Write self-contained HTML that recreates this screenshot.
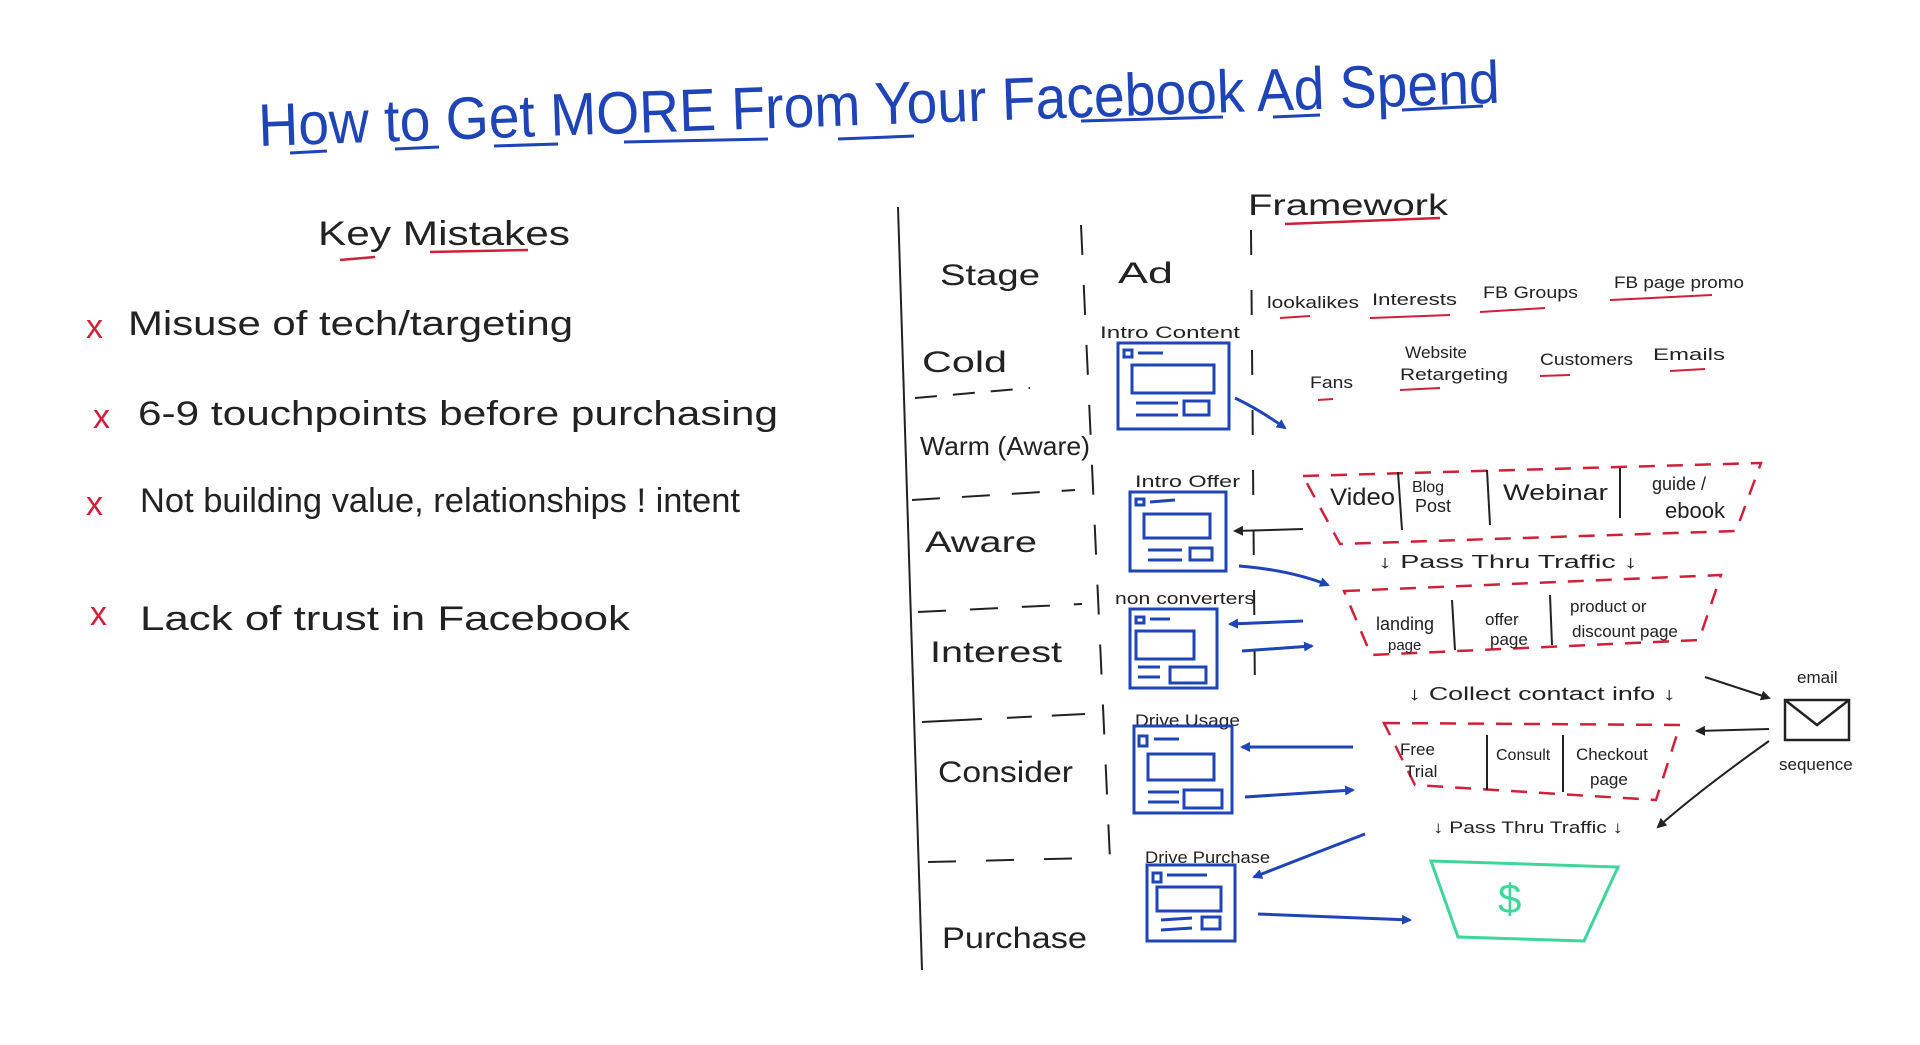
<!DOCTYPE html>
<html><head><meta charset="utf-8"><style>
html,body{margin:0;padding:0;background:#fff;width:1920px;height:1045px;overflow:hidden}
svg{display:block}
text{font-family:"Liberation Sans",sans-serif}
</style></head><body>
<svg width="1920" height="1045" viewBox="0 0 1920 1045" xmlns="http://www.w3.org/2000/svg">
<defs>
<marker id="ab" markerWidth="10" markerHeight="10" refX="8" refY="5" orient="auto" markerUnits="userSpaceOnUse"><path d="M0,0 L10,5 L0,10 z" fill="#1e44b8"/></marker>
<marker id="ak" markerWidth="10" markerHeight="10" refX="8" refY="5" orient="auto" markerUnits="userSpaceOnUse"><path d="M0,0 L10,5 L0,10 z" fill="#222"/></marker>
</defs>
<!-- Title -->
<g fill="#1e44b8" font-size="60">
<text x="259" y="146" transform="rotate(-2 259 146)" textLength="1242" lengthAdjust="spacingAndGlyphs">How  to  Get  MORE  From  Your  Facebook  Ad  Spend</text>
</g>
<g stroke="#1e44b8" stroke-width="3" fill="none">
<path d="M290 153 L327 151"/><path d="M395 149 L439 147"/><path d="M494 146 L558 144"/><path d="M624 142 L768 139"/><path d="M838 139 L914 136"/><path d="M1081 121 L1223 117"/><path d="M1273 117 L1320 115"/><path d="M1402 110 L1483 106"/>
</g>
<!-- Key mistakes -->
<g font-size="34" fill="#222">
<text x="318" y="245" textLength="252" lengthAdjust="spacingAndGlyphs">Key  Mistakes</text>
<text x="128" y="335" textLength="445" lengthAdjust="spacingAndGlyphs">Misuse of tech/targeting</text>
<text x="138" y="425" textLength="640" lengthAdjust="spacingAndGlyphs">6-9 touchpoints before purchasing</text>
<text x="140" y="512" textLength="600" lengthAdjust="spacingAndGlyphs">Not building value, relationships ! intent</text>
<text x="140" y="630" textLength="490" lengthAdjust="spacingAndGlyphs">Lack of trust in Facebook</text>
</g>
<g stroke="#d0203a" stroke-width="2.5" fill="none">
<path d="M340 260 L375 257"/><path d="M430 252 L528 250"/>
</g>
<g fill="#d0203a" font-size="34"><text x="86" y="338">x</text><text x="93" y="428">x</text><text x="86" y="515">x</text><text x="90" y="625">x</text></g>
<!-- table lines -->
<g stroke="#222" stroke-width="2" fill="none">
<path d="M898 207 L922 970"/>
<path d="M1081 225 L1110 860" stroke-dasharray="30 30"/>
<path d="M1251 230 L1255 700" stroke-dasharray="25 35"/>
<path d="M915 398 L1030 388" stroke-dasharray="22 16"/>
<path d="M912 500 L1075 490" stroke-dasharray="28 22"/>
<path d="M918 612 L1082 604" stroke-dasharray="28 24"/>
<path d="M922 722 L1085 714" stroke-dasharray="60 25 25 20"/>
<path d="M928 862 L1092 858" stroke-dasharray="28 30"/>
</g>
<g font-size="30" fill="#222">
<text x="1248" y="215" textLength="200" lengthAdjust="spacingAndGlyphs">Framework</text>
<text x="940" y="285" textLength="100" lengthAdjust="spacingAndGlyphs">Stage</text>
<text x="1118" y="283" textLength="55" lengthAdjust="spacingAndGlyphs">Ad</text>
<text x="922" y="372" textLength="85" lengthAdjust="spacingAndGlyphs">Cold</text>
<text x="920" y="455" font-size="26" textLength="170" lengthAdjust="spacingAndGlyphs">Warm (Aware)</text>
<text x="925" y="552" textLength="112" lengthAdjust="spacingAndGlyphs">Aware</text>
<text x="930" y="662" textLength="132" lengthAdjust="spacingAndGlyphs">Interest</text>
<text x="938" y="782" textLength="135" lengthAdjust="spacingAndGlyphs">Consider</text>
<text x="942" y="948" textLength="145" lengthAdjust="spacingAndGlyphs">Purchase</text>
</g>
<path d="M1285 224 L1440 218" stroke="#d0203a" stroke-width="2.5" fill="none"/>
<!-- ad labels -->
<g font-size="17" fill="#222">
<text x="1100" y="338" textLength="140" lengthAdjust="spacingAndGlyphs">Intro Content</text>
<text x="1135" y="487" textLength="105" lengthAdjust="spacingAndGlyphs">Intro Offer</text>
<text x="1115" y="604" textLength="140" lengthAdjust="spacingAndGlyphs">non converters</text>
<text x="1135" y="726" textLength="105" lengthAdjust="spacingAndGlyphs">Drive Usage</text>
<text x="1145" y="863" textLength="125" lengthAdjust="spacingAndGlyphs">Drive Purchase</text>
</g>
<!-- ad boxes -->
<g stroke="#1e44b8" stroke-width="3" fill="none">
<g transform="translate(1118,343)"><rect x="0" y="0" width="111" height="86"/><rect x="6" y="7" width="8" height="7"/><path d="M20 10 L45 10"/><rect x="14" y="22" width="82" height="28"/><path d="M18 60 L60 60 M18 72 L60 72"/><rect x="66" y="58" width="25" height="14"/></g>
<g transform="translate(1130,492)"><rect x="0" y="0" width="96" height="79"/><rect x="6" y="7" width="8" height="6"/><path d="M20 10 L45 8"/><rect x="14" y="22" width="66" height="24"/><path d="M18 58 L52 58 M18 68 L52 68"/><rect x="60" y="56" width="22" height="12"/></g>
<g transform="translate(1130,609)"><rect x="0" y="0" width="87" height="79"/><rect x="6" y="8" width="8" height="6"/><path d="M20 10 L40 10"/><rect x="6" y="22" width="58" height="28"/><path d="M8 58 L30 58 M8 68 L30 68"/><rect x="40" y="58" width="36" height="16"/></g>
<g transform="translate(1134,726)"><rect x="0" y="0" width="98" height="87"/><rect x="5" y="10" width="8" height="10"/><path d="M20 13 L45 13"/><rect x="14" y="28" width="66" height="26"/><path d="M14 66 L45 66 M14 76 L45 76"/><rect x="50" y="64" width="38" height="18"/></g>
<g transform="translate(1147,865)"><rect x="0" y="0" width="88" height="76"/><rect x="6" y="8" width="8" height="9"/><path d="M20 10 L60 10"/><rect x="10" y="22" width="64" height="24"/><path d="M14 55 L45 53 M14 65 L45 63"/><rect x="55" y="52" width="18" height="12"/></g>
</g>
<!-- framework row texts -->
<g font-size="17" fill="#222">
<text x="1267" y="308" textLength="92" lengthAdjust="spacingAndGlyphs">lookalikes</text>
<text x="1372" y="305" textLength="85" lengthAdjust="spacingAndGlyphs">Interests</text>
<text x="1483" y="298" textLength="95" lengthAdjust="spacingAndGlyphs">FB Groups</text>
<text x="1614" y="288" textLength="130" lengthAdjust="spacingAndGlyphs">FB page promo</text>
<text x="1310" y="388" textLength="43" lengthAdjust="spacingAndGlyphs">Fans</text>
<text x="1405" y="358" textLength="62" lengthAdjust="spacingAndGlyphs">Website</text>
<text x="1400" y="380" textLength="108" lengthAdjust="spacingAndGlyphs">Retargeting</text>
<text x="1540" y="365" textLength="93" lengthAdjust="spacingAndGlyphs">Customers</text>
<text x="1653" y="360" textLength="72" lengthAdjust="spacingAndGlyphs">Emails</text>
</g>
<g stroke="#d0203a" stroke-width="2" fill="none">
<path d="M1280 318 L1310 316"/><path d="M1370 318 L1450 315"/><path d="M1480 312 L1545 308"/><path d="M1610 300 L1712 295"/>
<path d="M1318 400 L1333 399"/><path d="M1400 390 L1440 388"/><path d="M1540 376 L1570 375"/><path d="M1670 371 L1705 369"/>
</g>
<!-- funnels -->
<g stroke="#d0203a" stroke-width="2.5" fill="none" stroke-dasharray="16 12">
<path d="M1303 476 L1761 463 L1736 531 L1340 544 Z"/>
<path d="M1344 591 L1721 575 L1699 640 L1371 655 Z"/>
<path d="M1384 723 L1680 725 L1656 800 L1415 785 Z"/>
</g>
<g stroke="#222" stroke-width="2" fill="none">
<path d="M1398 472 L1402 530"/><path d="M1487 470 L1490 525"/><path d="M1620 468 L1620 518"/>
<path d="M1452 600 L1455 650"/><path d="M1550 595 L1552 645"/>
<path d="M1487 735 L1487 790"/><path d="M1563 735 L1563 792"/>
</g>
<g font-size="24" fill="#222">
<text x="1330" y="505" textLength="65" lengthAdjust="spacingAndGlyphs">Video</text>
<text x="1412" y="492" font-size="16">Blog</text><text x="1415" y="512" font-size="18">Post</text>
<text x="1503" y="500" font-size="22" textLength="105" lengthAdjust="spacingAndGlyphs">Webinar</text>
<text x="1652" y="490" font-size="18">guide /</text><text x="1665" y="518" font-size="22">ebook</text>
<text x="1378" y="568" font-size="18" textLength="260" lengthAdjust="spacingAndGlyphs">↓ Pass Thru Traffic ↓</text>
<text x="1376" y="630" font-size="18">landing</text><text x="1388" y="650" font-size="15">page</text>
<text x="1485" y="625" font-size="17">offer</text><text x="1490" y="645" font-size="17">page</text>
<text x="1570" y="612" font-size="17">product or</text><text x="1572" y="637" font-size="17">discount page</text>
<text x="1408" y="700" font-size="18" textLength="268" lengthAdjust="spacingAndGlyphs">↓ Collect contact info ↓</text>
<text x="1400" y="755" font-size="17">Free</text><text x="1405" y="777" font-size="17">Trial</text>
<text x="1496" y="760" font-size="16">Consult</text>
<text x="1576" y="760" font-size="17">Checkout</text><text x="1590" y="785" font-size="17">page</text>
<text x="1433" y="833" font-size="17" textLength="190" lengthAdjust="spacingAndGlyphs">↓ Pass Thru Traffic ↓</text>
<text x="1797" y="683" font-size="17">email</text>
<text x="1779" y="770" font-size="17">sequence</text>
</g>
<!-- envelope -->
<g stroke="#222" stroke-width="2.5" fill="none"><rect x="1785" y="700" width="64" height="40"/><path d="M1785 700 L1817 725 L1849 700"/></g>
<!-- green funnel -->
<path d="M1431 861 L1618 867 L1584 941 L1458 937 Z" fill="none" stroke="#3fd69a" stroke-width="3"/>
<text x="1498" y="913" font-size="42" fill="#3fd69a">$</text>
<!-- blue arrows -->
<g stroke="#1e44b8" stroke-width="3" fill="none" marker-end="url(#ab)">
<path d="M1235 398 Q1260 410 1285 428"/>
<path d="M1239 566 Q1290 570 1328 585"/>
<path d="M1303 621 L1230 624"/>
<path d="M1242 651 L1312 646"/>
<path d="M1353 747 L1242 747"/>
<path d="M1245 797 L1353 790"/>
<path d="M1365 834 Q1310 855 1254 877"/>
<path d="M1258 914 L1410 920"/>
</g>
<!-- black arrows -->
<g stroke="#222" stroke-width="2" fill="none" marker-end="url(#ak)">
<path d="M1303 529 L1235 531"/>
<path d="M1705 677 L1769 698"/>
<path d="M1769 729 L1697 731"/>
<path d="M1769 741 Q1700 790 1658 827"/>
</g>
</svg>
</body></html>
